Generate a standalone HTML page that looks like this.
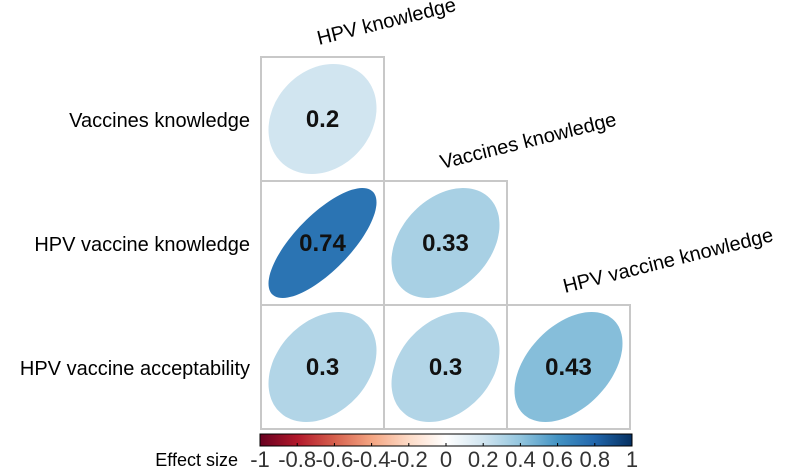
<!DOCTYPE html>
<html><head><meta charset="utf-8"><style>
body{margin:0;background:#fff;}
svg{display:block;font-family:"Liberation Sans",sans-serif;}
</style></head><body>
<svg width="797" height="468" viewBox="0 0 797 468">
<g id="cells"></g>
<g id="labels"></g>
<g id="cbar"></g>
</svg>
<script>
const variables=["HPV knowledge","Vaccines knowledge","HPV vaccine knowledge","HPV vaccine acceptability"];
const rowIdx=[1,2,2,3,3,3];
const colIdx=[0,0,1,0,1,2];
const corrValues=[0.2,0.74,0.33,0.3,0.3,0.43];
const corrLabels=["0.2","0.74","0.33","0.3","0.3","0.43"];
const ticks=["-1","-0.8","-0.6","-0.4","-0.2","0","0.2","0.4","0.6","0.8","1"];
const pal=["#67001F","#B2182B","#D6604D","#F4A582","#FDDBC7","#FFFFFF","#D1E5F0","#92C5DE","#4393C3","#2166AC","#053061"];
const NS="http://www.w3.org/2000/svg";
const x0=261,y0=57,cw=123,ch=124;
function hx(h){return [1,3,5].map(i=>parseInt(h.substr(i,2),16));}
function col(r){let p=(r+1)/2*10;let i=Math.min(9,Math.floor(p));let f=p-i;let a=hx(pal[i]),b=hx(pal[i+1]);return "rgb("+a.map((v,k)=>Math.round(v+(b[k]-v)*f)).join(",")+")";}
function mk(t,at,par){const e=document.createElementNS(NS,t);for(const k in at)e.setAttribute(k,at[k]);par.appendChild(e);return e;}
const cells=document.getElementById('cells');
corrValues.forEach((r,i)=>{
 const cx=x0+colIdx[i]*cw, cy=y0+(rowIdx[i]-1)*ch;
 const rc=mk('rect',{x:cx,y:cy,width:cw,height:ch,fill:'none',stroke:'#c8c8c8','stroke-width':2},cells);
 
 
 const d=Math.acos(r);let pts=[];
 for(let k=0;k<100;k++){const t=k/100*2*Math.PI;pts.push((cx+cw/2+Math.cos(t+d/2)*54).toFixed(1)+","+(cy+ch/2-Math.cos(t-d/2)*55).toFixed(1));}
 const el=mk('polygon',{points:pts.join(" "),fill:col(r)},cells);
 
 
 const tx=mk('text',{x:cx+cw/2,y:cy+ch/2+8,'text-anchor':'middle','font-size':24,'font-weight':'bold',fill:'#111'},cells);
 tx.textContent=corrLabels[i];
 
 
});
const lab=document.getElementById('labels');
for(let i=1;i<4;i++){const t=mk('text',{x:250,y:y0+(i-1)*ch+ch/2+8,'text-anchor':'end','font-size':20},lab);t.textContent=variables[i];
 
 }
for(let j=0;j<3;j++){const bx=x0+j*cw+58,by=y0+j*ch-12;const t=mk('text',{x:bx,y:by,'font-size':20,transform:`rotate(-14 ${bx} ${by})`},lab);t.textContent=variables[j];
 
 }
const cb=document.getElementById('cbar');
const bx0=260,bx1=632,by=434,bh=12;
const defs=mk('defs',{},cb);const g=mk('linearGradient',{id:'gr'},defs);
pal.forEach((c,i)=>mk('stop',{offset:(i*10)+'%','stop-color':c},g));
const br=mk('rect',{x:bx0,y:by,width:bx1-bx0,height:bh,fill:'url(#gr)',stroke:'#000','stroke-width':1},cb);


ticks.forEach((s,i)=>{const x=bx0+i*(bx1-bx0)/10;
 mk('line',{x1:x,x2:x,y1:by+bh-3,y2:by+bh,stroke:'#000'},cb);
 const t=mk('text',{x:x,y:467,'text-anchor':'middle','font-size':22,fill:'#333'},cb);t.textContent=s;
 
 });
const et=mk('text',{x:238,y:466,'text-anchor':'end','font-size':18},cb);et.textContent="Effect size";


</script>
</body></html>
